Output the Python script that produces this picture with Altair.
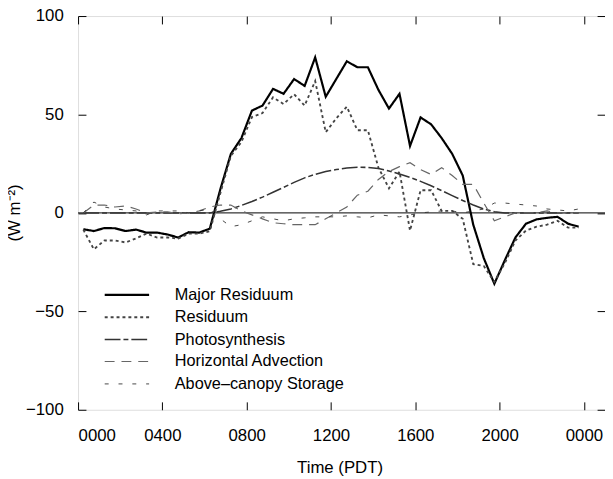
import altair as alt
import pandas as pd

# Half-hourly time stamps (hours after midnight, PDT)
time_h = [0.25, 0.75, 1.25, 1.75, 2.25, 2.75, 3.25, 3.75, 4.25, 4.75, 5.25, 5.75,
          6.25, 6.75, 7.25, 7.75, 8.25, 8.75, 9.25, 9.75, 10.25, 10.75, 11.25, 11.75,
          12.25, 12.75, 13.25, 13.75, 14.25, 14.75, 15.25, 15.75, 16.25, 16.75, 17.25, 17.75,
          18.25, 18.75, 19.25, 19.75, 20.25, 20.75, 21.25, 21.75, 22.25, 22.75, 23.25, 23.75]

major_residuum = [-8.3, -9.2, -7.7, -7.8, -9.2, -8.5, -10, -10, -11, -12.5, -9.8, -10,
                  -8, 12, 30, 38, 52, 54.5, 63, 60.5, 68, 64.5, 79, 59,
                  68, 77, 74, 74, 62.5, 53, 60.5, 34, 48.5, 45, 38, 30,
                  19, -6, -23, -36, -24, -12.5, -5.5, -3.3, -2.5, -2, -5.5, -7]

residuum = [-8.5, -18.5, -14, -14, -15, -13, -10.5, -12.5, -12.5, -13, -10.5, -10.5,
            -9.3, 10, 29, 36, 48.7, 50.7, 58.7, 55.3, 60.3, 54.5, 67, 41,
            48, 54, 42, 42, 23, 12.5, 21, -9, 11.5, 11.5, 1, 1,
            -3, -26, -27, -35, -25.5, -14, -9, -7, -6, -4, -7.5, -7.5]

photosynthesis = [0, 0, 0, 0, 0, 0, 0, 0, 0, 0, 0, 0,
                  0, 0.8, 2, 3.8, 5.8, 8, 10.5, 13, 15.5, 17.8, 19.6, 21,
                  22, 22.8, 23.2, 23.1, 22.5, 21.3, 19.8, 18, 16, 13.8, 11.3, 8.8,
                  6.3, 4, 2, 0.6, 0, 0, 0, 0, 0, 0, 0, 0]

horizontal_advection = [0, 4, 4, 3, 3.5, 2, 0, 0.5, 0.5, -0.5, 0, 1,
                        3, 4, 4, 1, -1, -3, -5, -5.5, -6, -6, -6, -3,
                        0, 3, 9, 11, 17, 21, 23.5, 25.5, 22, 19.5, 23, 19,
                        14.5, 14.5, 5, -4, -2, 0, 0, 0, 1, 0, 0, 0]

above_canopy_storage = [0, 5.5, 3, 2, 1.5, 1, -1, 1, 1, 1, 0, 1,
                        2, -3, -7, -6, -4, -2, -3, -4, -3, -2.5, -2, -2,
                        -2, -1.5, -2, -2.5, -1, -1.5, -2, -1, 0, 0.5, 1, 1,
                        0, 1, 2, 5, 5, 4.5, 4, 3.5, 2, 1.5, 1, 2]

series_names = ["Major Residuum", "Residuum", "Photosynthesis",
                "Horizontal Advection", "Above\u2013canopy Storage"]
series_values = [major_residuum, residuum, photosynthesis,
                 horizontal_advection, above_canopy_storage]

x_tick_values = [0, 4, 8, 12, 16, 20, 24]
y_tick_values = [-100, -50, 0, 50, 100]
zero_line = [0]

rows = []
for name, vals in zip(series_names, series_values):
    for t, v in zip(time_h, vals):
        rows.append({"time": t, "value": v, "series": name})
df = pd.DataFrame(rows)

W, H = 534, 399
FONT = "Liberation Sans"

line_colors = ["#000000", "#444444", "#333333", "#666666", "#333333"]
line_dashes = [[1, 0], [3, 3], [16, 3, 5, 3], [10, 7], [4, 10]]
line_widths = [2.2, 0.9, 0.9, 1.1, 1]

legend = alt.Legend(
    title=None, orient="none", legendX=37, legendY=270,
    symbolType="M-2,0L2,0", symbolSize=506, labelFont=FONT, labelFontSize=16.5,
    labelColor="black", labelOffset=36, rowPadding=1.7, padding=0, labelLimit=400,
)

label_expr = ("datum.value == 24 ? '0000' : (datum.value < 10 ? '0' + datum.value + '00' "
              ": datum.value + '00')")

x_scale = alt.Scale(domain=[0, 25], nice=False, zero=False)
y_scale = alt.Scale(domain=[-100, 100], nice=False)

lines = alt.Chart(df).mark_line().encode(
    x=alt.X("time:Q", scale=x_scale,
            axis=alt.Axis(orient="bottom", values=x_tick_values, labelExpr=label_expr,
                          ticks=False, domain=False, grid=False, labelPadding=18,
                          labelFont=FONT, labelFontSize=17, labelColor="black",
                          title="Time (PDT)", titleFont=FONT, titleFontSize=17,
                          titleFontWeight="normal", titleColor="black",
                          titleX=265, titleY=59, titleBaseline="middle", titleAlign="center")),
    y=alt.Y("value:Q", scale=y_scale,
            axis=alt.Axis(orient="left", values=y_tick_values, ticks=False, domain=False,
                          grid=False, labelPadding=15, labelFont=FONT, labelFontSize=17,
                          labelColor="black",
                          title="(W m\u207b\u00b2)", titleFont=FONT, titleFontSize=17,
                          titleFontWeight="normal", titleColor="black",
                          titleX=-64, titleY=199, titleAngle=270,
                          titleBaseline="middle", titleAlign="center")),
    color=alt.Color("series:N", scale=alt.Scale(domain=series_names, range=line_colors),
                    legend=legend),
    strokeDash=alt.StrokeDash("series:N", scale=alt.Scale(domain=series_names, range=line_dashes),
                              legend=legend),
    strokeWidth=alt.StrokeWidth("series:N", scale=alt.Scale(domain=series_names, range=line_widths),
                                legend=legend),
)

zero_rule = alt.Chart(pd.DataFrame({"y": zero_line})).mark_rule(
    color="black", strokeWidth=1).encode(y=alt.Y("y:Q", scale=y_scale, axis=None))

tick_axis_common = dict(labels=False, domain=False, grid=False, ticks=True,
                        tickSize=8, tickColor="black", tickWidth=1, title=None)

ticks_a = alt.Chart(df).mark_point(opacity=0).encode(
    x=alt.X("time:Q", scale=x_scale,
            axis=alt.Axis(orient="top", offset=-H, values=x_tick_values, **tick_axis_common)),
    y=alt.Y("value:Q", scale=y_scale,
            axis=alt.Axis(orient="right", offset=-W, values=y_tick_values, **tick_axis_common)),
)

ticks_b = alt.Chart(df).mark_point(opacity=0).encode(
    x=alt.X("time:Q", scale=x_scale,
            axis=alt.Axis(orient="bottom", offset=-H, values=x_tick_values, **tick_axis_common)),
    y=alt.Y("value:Q", scale=y_scale,
            axis=alt.Axis(orient="left", offset=-W, values=y_tick_values, **tick_axis_common)),
)

chart = alt.layer(zero_rule, lines, ticks_a, ticks_b).resolve_axis(
    x="independent", y="independent"
).properties(
    width=W, height=H,
    autosize=alt.AutoSizeParams(type="none"),
    padding={"left": 71, "top": 5, "right": 0, "bottom": 66},
).configure_view(
    stroke="black", strokeWidth=1.3
).configure(background="white")

chart.save("out.html", embed_options={"renderer": "svg", "actions": False})
